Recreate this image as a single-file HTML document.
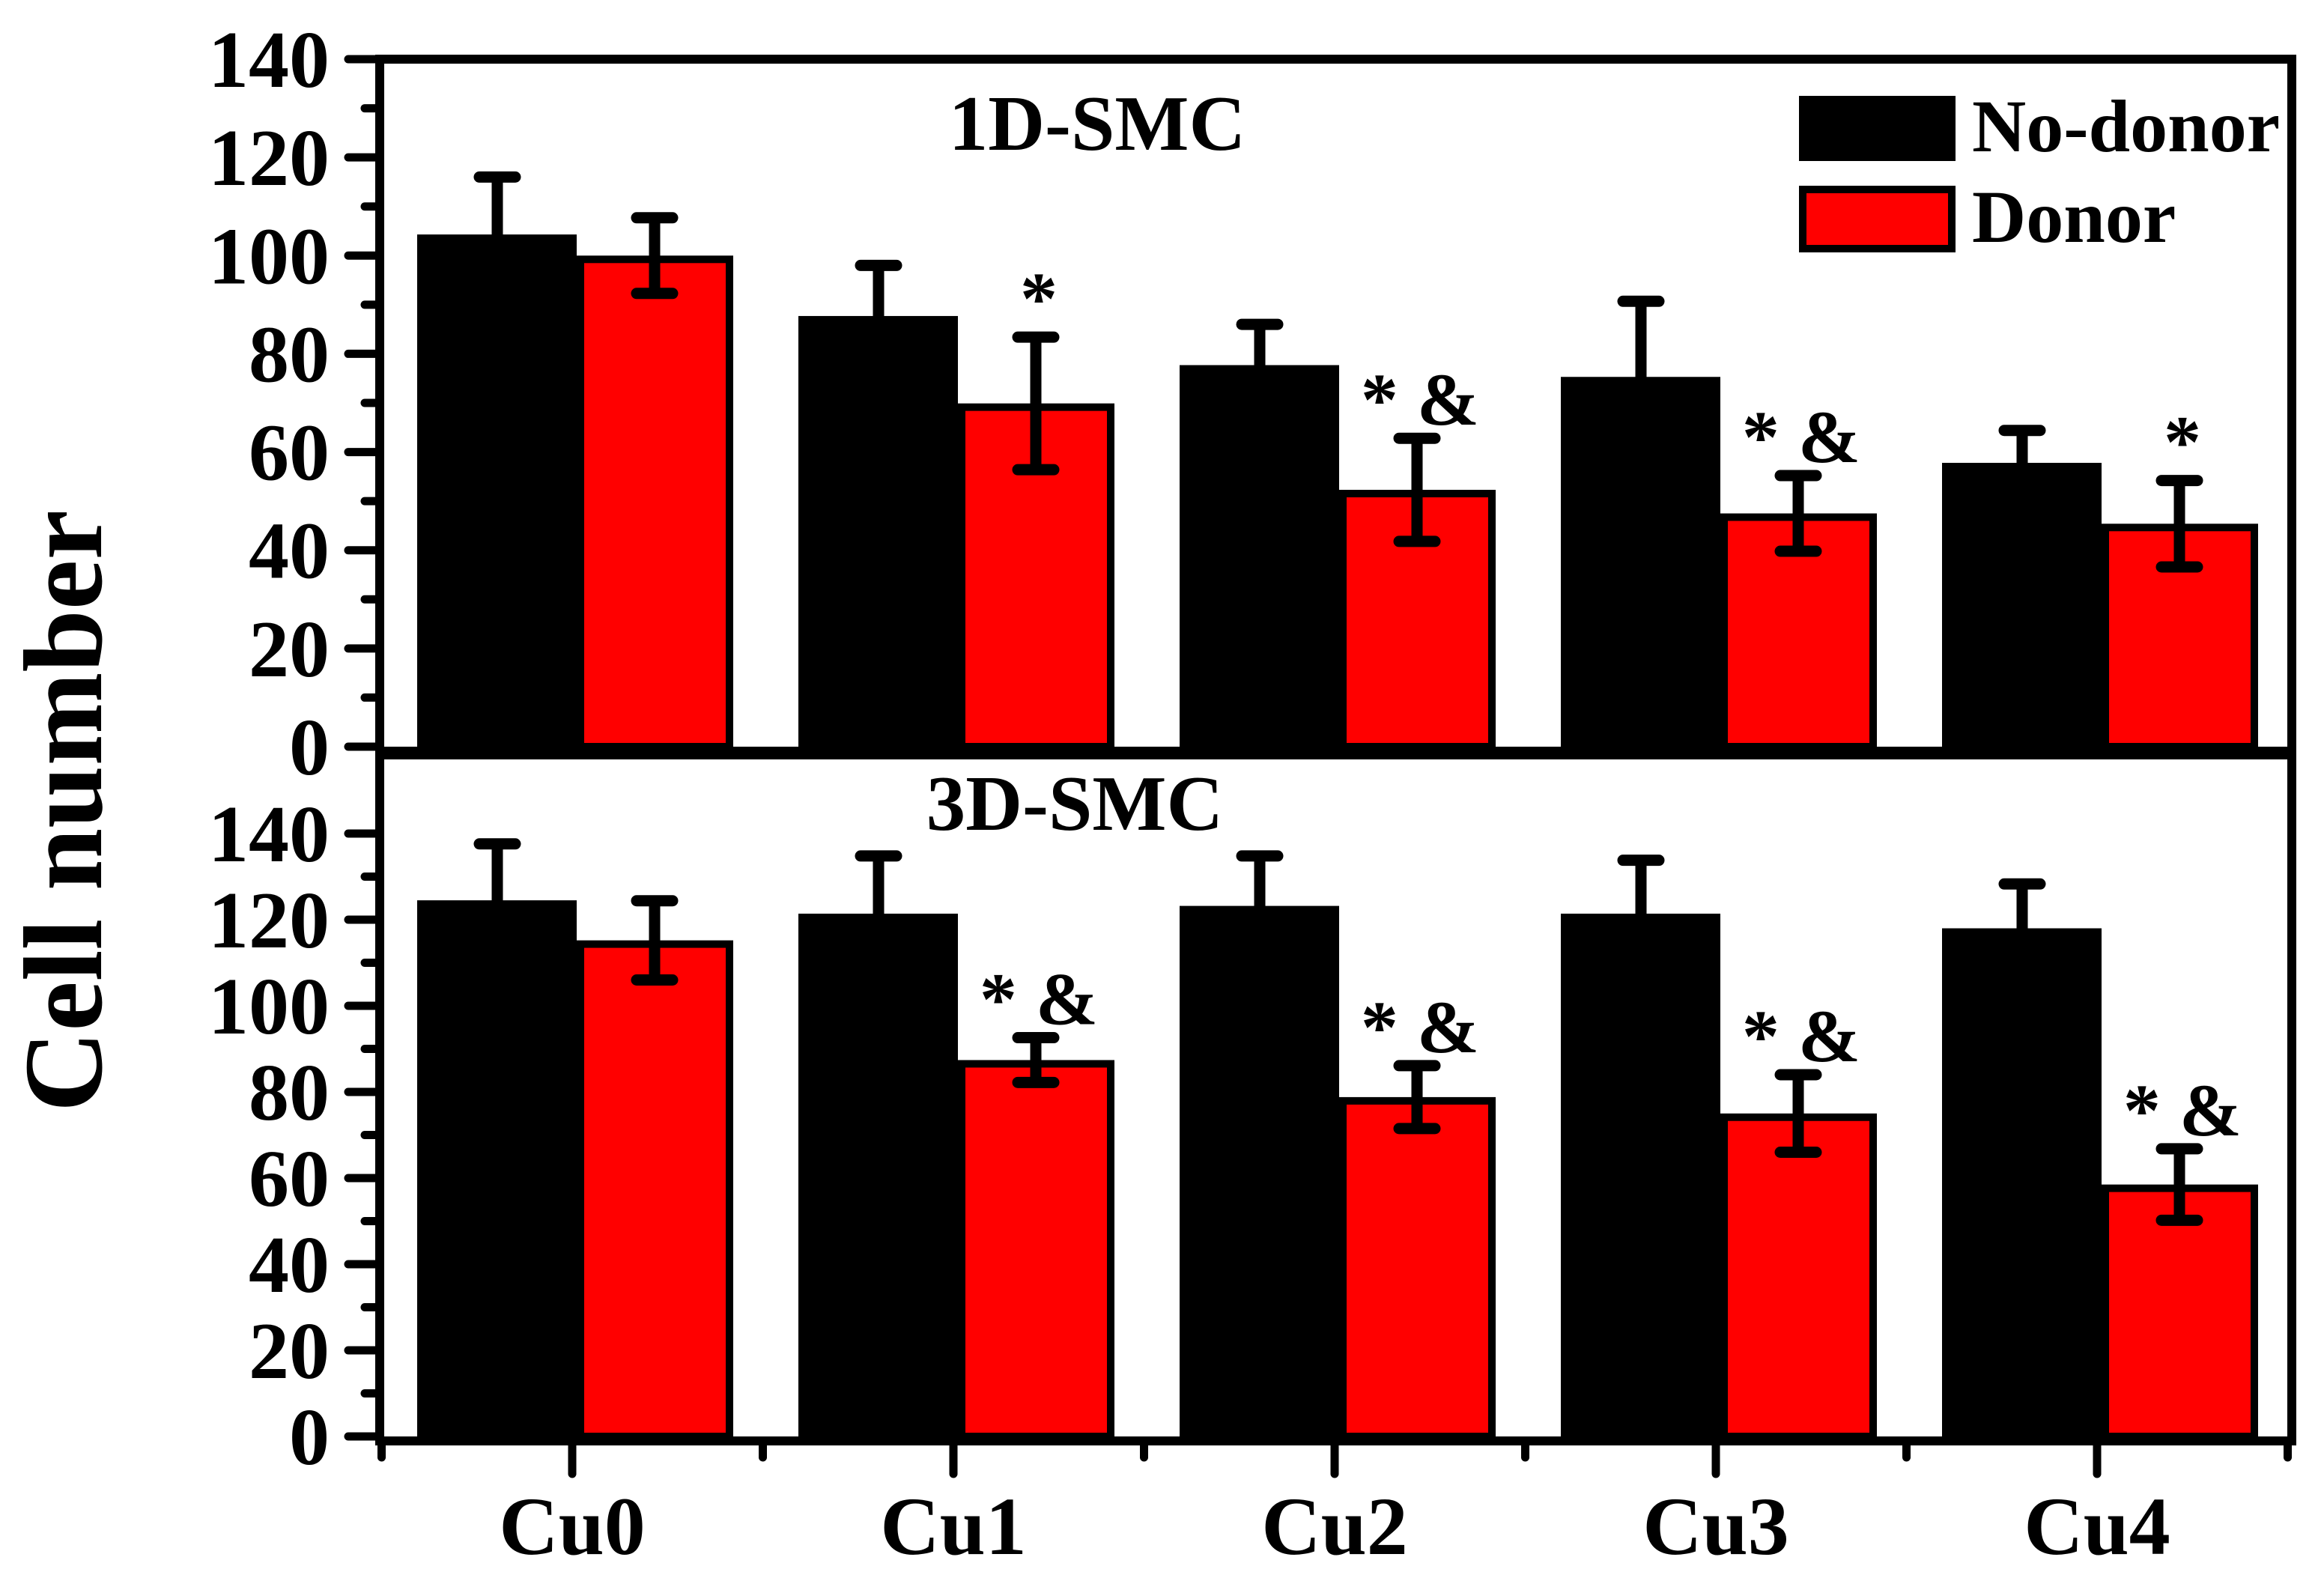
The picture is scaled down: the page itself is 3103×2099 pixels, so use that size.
<!DOCTYPE html>
<html><head><meta charset="utf-8"><style>
html,body{margin:0;padding:0;background:#fff;}
svg{display:block;}
text{font-family:"Liberation Serif","Times New Roman",Times,serif;font-weight:bold;fill:#000;}
</style></head>
<body>
<svg id="chart" width="3103" height="2099" viewBox="0 0 3103 2099" xmlns="http://www.w3.org/2000/svg">
<g id="static">
<text x="0" y="0" font-size="150" font-family="Liberation Serif, serif" text-anchor="middle" transform="translate(135,1083) rotate(-90)">Cell number</text>
<rect x="2402" y="128" width="209" height="87" fill="#000"/>
<text x="2633" y="202" font-size="100" font-family="Liberation Serif, serif">No-donor</text>
<rect x="2407" y="253" width="199" height="79" fill="#f00" stroke="#000" stroke-width="10"/>
<text x="2633" y="323" font-size="100" font-family="Liberation Serif, serif">Donor</text>
</g>
</svg>
<script>
const categories = ["Cu0","Cu1","Cu2","Cu3","Cu4"];
const tickLabels = [0,20,40,60,80,100,120,140];
const top1DNoDonor = [104.3, 87.7, 77.7, 75.3, 57.8];
const top1DNoDonorErr = [11.7, 10.3, 8.3, 15.4, 6.6];
const top1DDonor = [100, 69.9, 52.3, 47.5, 45.4];
const top1DDonorErr = [7.7, 13.5, 10.5, 7.7, 8.8];
const top1DMarks = ["", "*", "* &", "* &", "*"];
const bot3DNoDonor = [124.5, 121.4, 123.2, 121.4, 118];
const bot3DNoDonorErr = [13.1, 13.4, 11.6, 12.4, 10.3];
const bot3DDonor = [115.2, 87.4, 78.8, 75, 58.5];
const bot3DDonorErr = [9.2, 5.2, 7.3, 9, 8.3];
const bot3DMarks = ["", "* &", "* &", "* &", "* &"];

const NS = "http://www.w3.org/2000/svg";
const svg = document.getElementById('chart');
function mk(tag, attrs){const e=document.createElementNS(NS,tag);for(const k in attrs)e.setAttribute(k,attrs[k]);svg.appendChild(e);return e;}

const axL = 507, axR = 3060;
const xC = i => 764 + i*509;
const panels = [
  {name:"1d-smc", y0:997, y140:79, top:79, title:"1D-SMC", tx:1465, ty:200, nd:top1DNoDonor, ndE:top1DNoDonorErr, d:top1DDonor, dE:top1DDonorErr, marks:top1DMarks},
  {name:"3d-smc", y0:1918, y140:1113, top:1008, title:"3D-SMC", tx:1435, ty:1108, nd:bot3DNoDonor, ndE:bot3DNoDonorErr, d:bot3DDonor, dE:bot3DDonorErr, marks:bot3DMarks}
];

panels.forEach(p=>{
  const yS = v => p.y0 - (p.y0 - p.y140) * v / 140;
  const t = mk('text',{x:p.tx,y:p.ty,'font-size':105,'text-anchor':'middle','font-family':'Liberation Serif, serif'});
  t.textContent = p.title;
  
  
  categories.forEach((c,i)=>{
    const b = xC(i)+6;
    const h = mk('rect',{x:b-213,y:yS(p.nd[i]),width:213,height:p.y0-yS(p.nd[i]),fill:'#000'});
    
    
    const r = mk('rect',{x:b+5,y:yS(p.d[i])+5,width:199,height:p.y0-yS(p.d[i])-5,fill:'#f00',stroke:'#000','stroke-width':10});
    
    
    const ex1 = b-106, et1 = yS(p.nd[i]+p.ndE[i]);
    const e1 = mk('path',{d:`M${ex1} ${yS(p.nd[i])}V${et1}M${ex1-24} ${et1}H${ex1+24}`,stroke:'#000','stroke-width':15,fill:'none','stroke-linecap':'round'});
    
    
    const ex2 = b+104, et2 = yS(p.d[i]+p.dE[i]), eb2 = yS(p.d[i]-p.dE[i]);
    const e2 = mk('path',{d:`M${ex2} ${eb2}V${et2}M${ex2-24} ${et2}H${ex2+24}M${ex2-24} ${eb2}H${ex2+24}`,stroke:'#000','stroke-width':15,fill:'none','stroke-linecap':'round'});
    
    
    if(p.marks[i]){
      const m = mk('text',{x:ex2+4,y:et2-18,'font-size':100,'text-anchor':'middle','font-family':'Liberation Serif, serif'});
      m.textContent = p.marks[i];
      
      
    }
  });
  for(let v=0; v<=140; v+=10){
    const major = v%20===0;
    const tk = mk('line',{x1:axL-(major?42:20),x2:axL,y1:yS(v),y2:yS(v),stroke:'#000','stroke-width':11,'stroke-linecap':'round'});
    
    
  }
  tickLabels.forEach(v=>{
    const l = mk('text',{x:440,y:yS(v)+37,'font-size':108,'text-anchor':'end','font-family':'Liberation Serif, serif'});
    l.textContent = v;
    
    
  });
  const fr = mk('rect',{x:axL,y:p.top,width:axR-axL,height:p.y0+6-p.top,fill:'none',stroke:'#000','stroke-width':12});
  
  
});

for(let i=-0.5;i<=4.5;i+=0.5){
  const major = Number.isInteger(i);
  const tk = mk('line',{x1:xC(i),x2:xC(i),y1:1924,y2:1924+(major?44:22),stroke:'#000','stroke-width':11,'stroke-linecap':'round'});
  
  
}
categories.forEach((c,i)=>{
  const l = mk('text',{x:xC(i),y:2075,'font-size':110,'text-anchor':'middle','font-family':'Liberation Serif, serif'});
  l.textContent = c;
  
  
});
</script>
</body></html>
